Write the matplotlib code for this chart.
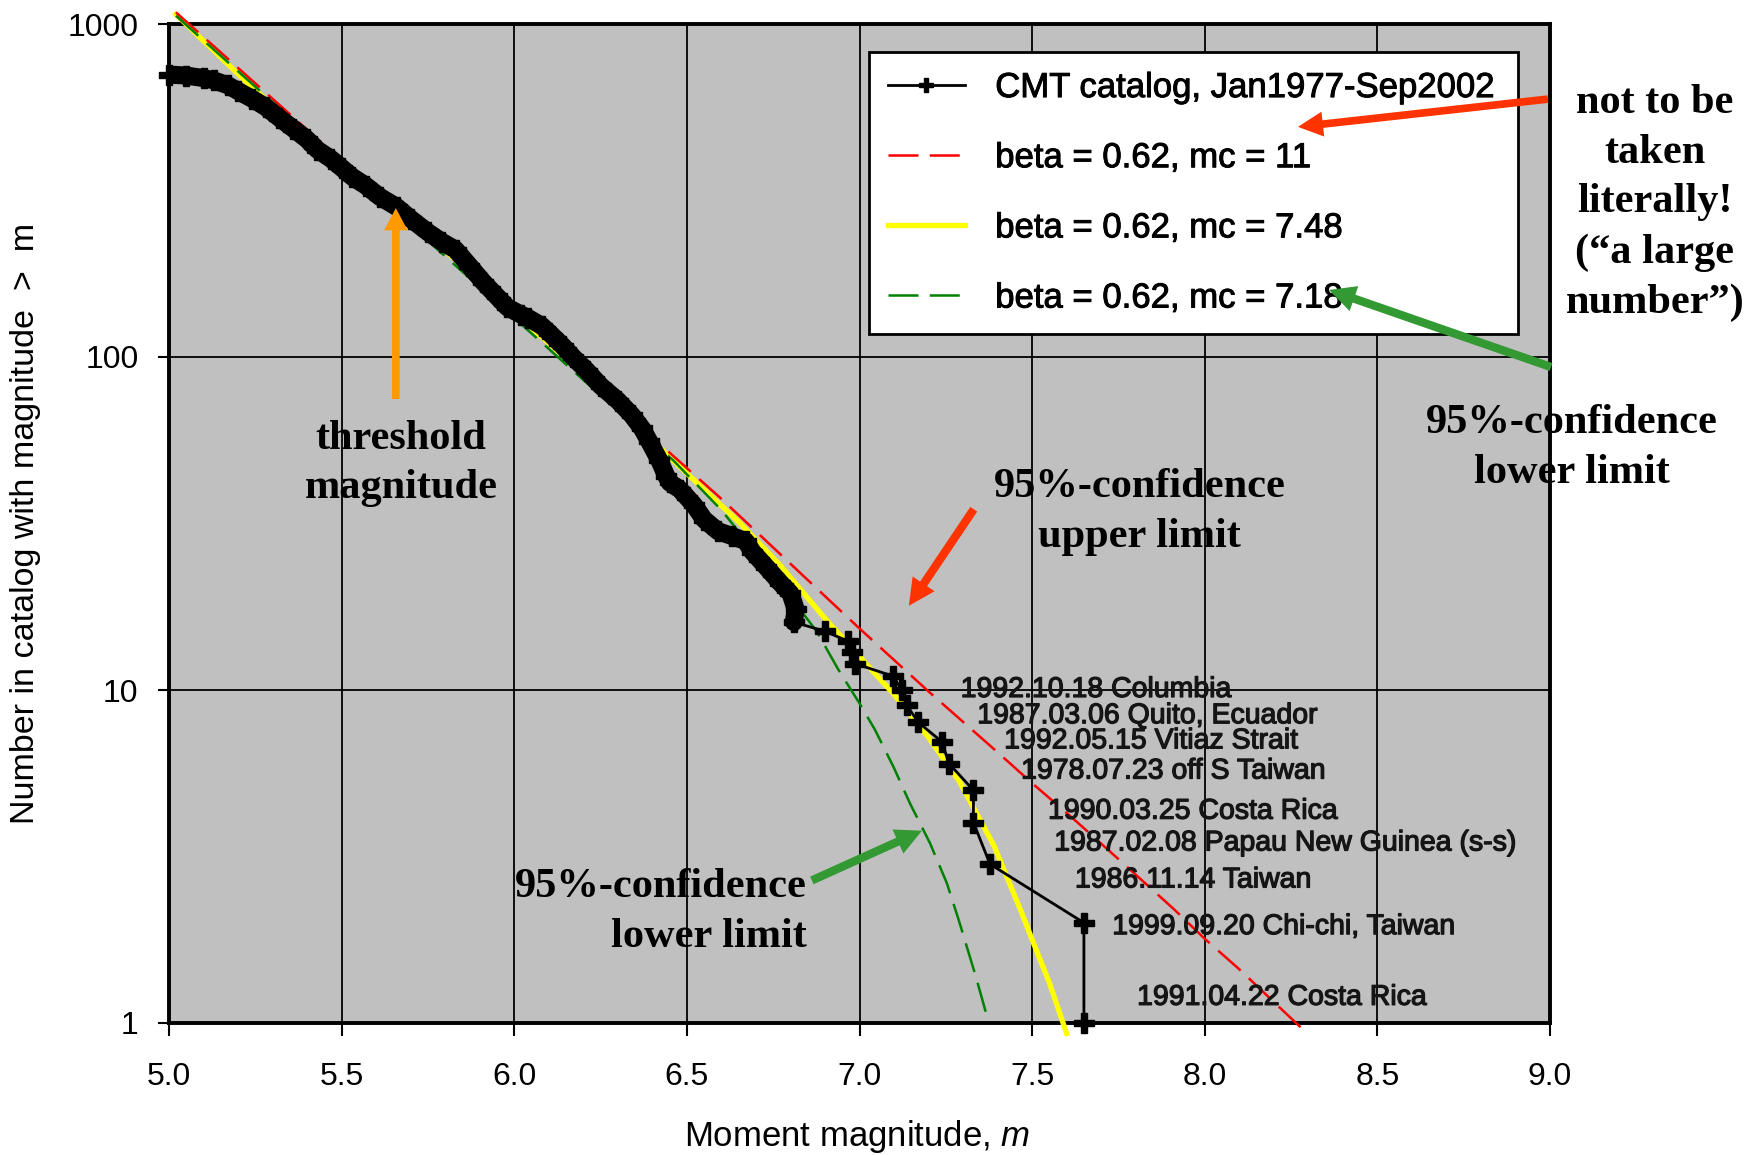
import matplotlib
matplotlib.use('Agg')
import matplotlib.pyplot as plt
import matplotlib.patheffects as pe
from matplotlib.ticker import FixedLocator, NullLocator, FixedFormatter

plt.rcParams['font.family'] = ['Liberation Sans', 'DejaVu Sans']
plt.rcParams['mathtext.fontset'] = 'custom'
plt.rcParams['mathtext.it'] = 'Liberation Sans:italic'
plt.rcParams['mathtext.rm'] = 'Liberation Sans'

# CMT catalog: cumulative number of events with magnitude above m
cat_m = [5.00, 5.05, 5.10, 5.13, 5.17, 5.20, 5.24, 5.28, 5.32, 5.36, 5.40, 5.43,
         5.47, 5.50, 5.53, 5.57, 5.61, 5.66, 5.70, 5.75, 5.79, 5.83, 5.87, 5.91,
         5.95, 5.98, 6.02, 6.04, 6.08, 6.11, 6.14, 6.17, 6.21, 6.25, 6.30, 6.34,
         6.37, 6.39, 6.42, 6.44, 6.45, 6.48, 6.52, 6.55, 6.59, 6.63, 6.67, 6.69,
         6.73, 6.77, 6.80, 6.815, 6.81,
         6.90, 6.968, 6.977, 6.987, 7.098, 7.122, 7.137, 7.170, 7.238, 7.260,
         7.330, 7.330, 7.378, 7.65, 7.65]
cat_n = [705, 700, 688, 677, 655, 629, 597, 563, 522, 485, 450, 419,
         393, 370, 348, 327, 303, 282, 260, 237, 222, 210, 188, 168,
         152, 141, 134, 131, 124, 116, 108, 100, 91, 82, 74, 67,
         61, 56, 49, 44, 42, 40, 36, 32.5, 30, 29, 28, 26,
         23.4, 21, 19.5, 17.5, 16,
         15, 14, 13, 12, 11, 10, 9, 8, 7, 6,
         5, 4, 3, 2, 1]
n_dense = 53  # points where the catalog markers merge into a band

# tapered Gutenberg-Richter fits, beta = 0.62
fit11_m = [5.02, 5.50, 6.00, 6.46, 6.60, 6.85, 7.00, 7.20, 7.40, 7.50, 7.62,
           7.76, 7.91, 8.00, 8.10, 8.29]
fit11_n = [1084, 389, 137, 50.5, 37.5, 21.4, 15.3, 9.9, 6.5, 5.25, 4.1,
           3.04, 2.2, 1.79, 1.45, 0.944]

fit748_m = [5.02, 5.25, 5.50, 5.75, 6.00, 6.25, 6.45, 6.65, 6.77, 6.90, 7.00,
            7.10, 7.20, 7.29, 7.39, 7.47, 7.50, 7.55, 7.60]
fit748_n = [1069, 631, 385, 232, 136, 80, 50, 32, 23.7, 16.4, 12.6,
            9.7, 7.2, 5.3, 3.4, 2.14, 1.78, 1.32, 0.93]

fit718_m = [5.02, 5.50, 6.00, 6.25, 6.46, 6.60, 6.77, 6.876, 6.939, 7.0, 7.045,
            7.098, 7.146, 7.204, 7.253, 7.286, 7.336, 7.37]
fit718_n = [1059, 380, 131, 76.7, 49, 34.7, 20.9, 15.0, 11.5, 9.12, 7.59,
            5.89, 4.57, 3.47, 2.63, 2.06, 1.39, 1.04]

# largest events in the catalog
event_names = ['1992.10.18 Columbia', '1987.03.06 Quito, Ecuador',
               '1992.05.15 Vitiaz Strait', '1978.07.23 off S Taiwan',
               '1990.03.25 Costa Rica', '1987.02.08 Papau New Guinea (s-s)',
               '1986.11.14 Taiwan', '1999.09.20 Chi-chi, Taiwan',
               '1991.04.22 Costa Rica']
event_label_m = [7.293, 7.341, 7.419, 7.468, 7.546, 7.564, 7.624, 7.732, 7.804]
event_label_n = [10, 8.34, 7.01, 5.69, 4.31, 3.46, 2.68, 1.94, 1.19]

x_ticks = [5.0, 5.5, 6.0, 6.5, 7.0, 7.5, 8.0, 8.5, 9.0]
y_ticks = [1, 10, 100, 1000]

fig = plt.figure(figsize=(17.62, 11.55), dpi=100)
ax = fig.add_axes([169 / 1762, 1 - 1023 / 1155, 1381 / 1762, 999 / 1155])
ax.set_facecolor('#c0c0c0')
ax.set_yscale('log')
ax.set_xlim(5.0, 9.0)
ax.set_ylim(1, 1000)

ax.xaxis.set_major_locator(FixedLocator(x_ticks))
ax.xaxis.set_major_formatter(FixedFormatter(['%.1f' % v for v in x_ticks]))
ax.yaxis.set_major_locator(FixedLocator(y_ticks))
ax.yaxis.set_major_formatter(FixedFormatter([str(v) for v in y_ticks]))
ax.yaxis.set_minor_locator(NullLocator())
ax.grid(True, color='black', lw=1.3)
ax.set_axisbelow(True)
for sp in ax.spines.values():
    sp.set_linewidth(2.8)
ax.tick_params(axis='x', direction='out', length=9, width=1.5, pad=19, labelsize=23)
ax.tick_params(axis='y', direction='out', length=8, width=1.5, pad=14, labelsize=23)

dash = (12, 4.5)
l_yel, = ax.plot(fit748_m, fit748_n, color='#ffff00', lw=3.8, clip_on=False, zorder=3,
                 label='beta = 0.62, mc = 7.48')
l_red, = ax.plot(fit11_m, fit11_n, color='#ff0000', lw=1.8, dashes=dash, clip_on=False,
                 zorder=4, label='beta = 0.62, mc = 11')
l_grn, = ax.plot(fit718_m, fit718_n, color='#008000', lw=1.8, dashes=dash, clip_on=False,
                 zorder=4, label='beta = 0.62, mc = 7.18')
ax.plot(cat_m[:n_dense], cat_n[:n_dense], color='black', lw=13,
        solid_capstyle='round', solid_joinstyle='round', zorder=5)
l_cat, = ax.plot(cat_m, cat_n, color='black', lw=2.0, marker='P', ms=14, zorder=6,
                 clip_on=False, label='CMT catalog, Jan1977-Sep2002')

heavy = [pe.withStroke(linewidth=0.9, foreground='#151515')]
for name, m, n in zip(event_names, event_label_m, event_label_n):
    ax.text(m, n, name, fontsize=20.5, color='#151515', ha='left', va='center',
            zorder=7, path_effects=heavy)

leg = ax.legend(handles=[l_cat, l_red, l_yel, l_grn], loc='upper left',
                bbox_to_anchor=(0.507, 0.693, 0.47, 0.279), mode='expand',
                borderaxespad=0, fontsize=25, frameon=True, fancybox=False,
                framealpha=1, edgecolor='black', handlelength=2.2,
                handletextpad=0.88, labelspacing=1.07, borderpad=0.55, numpoints=1)
leg.get_frame().set_linewidth(2)
for h in leg.get_lines():
    h.set_markersize(10)
for t in leg.get_texts():
    t.set_path_effects([pe.withStroke(linewidth=0.7, foreground='black')])
leg.set_zorder(8)

ax.set_xlabel('Moment magnitude, $\\mathit{m}$', fontsize=25, va='center')
ax.xaxis.set_label_coords(0.498, -0.114)
ax.set_ylabel('Number in catalog with magnitude  >  m', fontsize=24.5, va='center')
ax.yaxis.set_label_coords(-0.104, 0.5)

serif = dict(family=['Liberation Serif', 'DejaVu Serif'], fontweight='bold',
             fontsize=30.5, color='black', zorder=9, linespacing=1.4)

# threshold marker
ax.annotate('', xy=(5.657, 280), xytext=(5.657, 74.8),
            arrowprops=dict(facecolor='#ff9900', edgecolor='none', width=5.5,
                            headwidth=17, headlength=16, shrink=0), zorder=9)
ax.text(5.672, 47.9, 'threshold\nmagnitude', ha='center', va='center',
        multialignment='center', **serif)

# confidence limits
ax.annotate('', xy=(7.143, 17.9), xytext=(7.331, 34.9),
            arrowprops=dict(facecolor='#ff3300', edgecolor='none', width=6,
                            headwidth=19, headlength=19, shrink=0), zorder=9)
ax.text(7.812, 34.2, '95%-confidence\nupper limit', ha='center', va='center',
        multialignment='center', **serif)

ax.annotate('', xy=(7.181, 3.78), xytext=(6.862, 2.68),
            arrowprops=dict(facecolor='#339933', edgecolor='none', width=6,
                            headwidth=19, headlength=19, shrink=0), zorder=9)
ax.text(6.848, 2.15, '95%-confidence\nlower limit', ha='right', va='center',
        multialignment='right', **serif)

ax.annotate('', xy=(8.36, 159), xytext=(9.003, 93.3),
            arrowprops=dict(facecolor='#339933', edgecolor='none', width=6,
                            headwidth=19, headlength=19, shrink=0),
            annotation_clip=False, zorder=9)
ax.text(9.064, 53.3, '95%-confidence\nlower limit', ha='center', va='center',
        multialignment='center', **serif)

ax.annotate('', xy=(8.27, 491), xytext=(8.994, 595),
            arrowprops=dict(facecolor='#ff3300', edgecolor='none', width=5.5,
                            headwidth=18, headlength=18, shrink=0),
            annotation_clip=False, zorder=9)
ax.text(9.304, 290, 'not to be\ntaken\nliterally!\n(\u201ca large\nnumber\u201d)',
        ha='center', va='center', multialignment='center', **serif)

fig.savefig('out.png', dpi=100)
